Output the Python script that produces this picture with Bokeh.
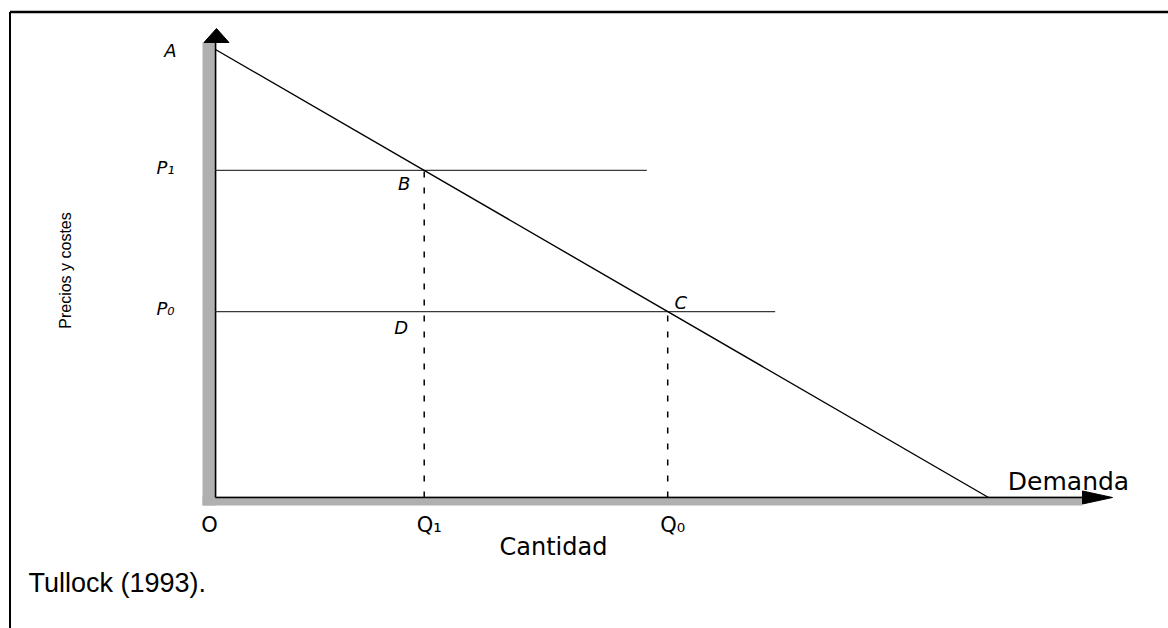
from bokeh.plotting import figure
from bokeh.models import Range1d
from bokeh.core.properties import value
from bokeh.embed import file_html
from bokeh.resources import INLINE

# ---------------- data ----------------
demand_q = [0.0, 100.0]          # demand curve: quantity
demand_p = [100.0, 0.0]          # demand curve: price
price_levels = [73.0, 41.5]      # P1, P0
price_labels = ["P\u2081", "P\u2080"]
price_line_ends = [55.8, 72.4]   # how far the horizontal price lines run
qty_levels = [27.0, 58.5]        # Q1, Q0
qty_labels = ["Q\u2081", "Q\u2080"]
origin_label = "O"
top_label = "A"
point_labels = ["B", "C", "D"]
x_title = "Cantidad"
y_title = "Precios y costes"
curve_label = "Demanda"
source_note = "Tullock (1993)."

# ---------------- layout (pixels) ----------------
W, H = 1168, 628
PX_X, PX_Y = 7.73, 4.48          # pixels per data unit
ORIG_X, ORIG_Y = 215, 497        # origin position inside the canvas


def dx(px):
    return px / PX_X


def dy(px):
    return px / PX_Y


x0 = -ORIG_X / PX_X
y1 = ORIG_Y / PX_Y
p = figure(width=W, height=H, output_backend="svg", toolbar_location=None,
           x_range=Range1d(x0, x0 + W / PX_X), y_range=Range1d(y1 - H / PX_Y, y1),
           x_axis_type=None, y_axis_type=None, min_border=0,
           outline_line_color=None, background_fill_color="white",
           border_fill_color="white")
p.grid.visible = False

# frame lines (top and left)
p.line([x0 + dx(9.5), x0 + W / PX_X], [y1 - dy(11.5)] * 2, line_color="black", line_width=2.5)
p.line([x0 + dx(9.5)] * 2, [y1 - dy(11.5), y1 - H / PX_Y], line_color="black", line_width=2)

AXIS_GRAY = "#b0b0b0"
Y_LEN, X_LEN = 455, 867
# axis bands
p.quad(left=[dx(-13)], right=[dx(1)], bottom=[-dy(8)], top=[dy(Y_LEN)],
       fill_color=AXIS_GRAY, line_color=None)
p.quad(left=[dx(-13)], right=[dx(X_LEN)], bottom=[-dy(8)], top=[dy(1)],
       fill_color=AXIS_GRAY, line_color=None)
p.line([0, 0], [0, dy(Y_LEN)], line_color="black", line_width=1.5)
p.line([0, dx(X_LEN)], [0, 0], line_color="black", line_width=1.5)
# arrow heads
p.patches(xs=[[dx(1) - dx(12.5), dx(1) + dx(12.5), dx(1)],
              [dx(X_LEN), dx(X_LEN), dx(X_LEN + 30)]],
          ys=[[dy(Y_LEN), dy(Y_LEN), dy(Y_LEN + 14)],
              [dy(6.5), -dy(6.5), 0]],
          fill_color="black", line_color="black", line_width=1)

# horizontal price lines
p.segment(x0=[0, 0], y0=price_levels, x1=price_line_ends, y1=price_levels,
          line_color="#3a3a3a", line_width=1.2)
# vertical dashed quantity lines
p.segment(x0=qty_levels, y0=[0, 0], x1=qty_levels, y1=price_levels,
          line_color="black", line_width=1.5, line_dash="6 10")
# demand curve
p.line(demand_q, demand_p, line_color="black", line_width=1.4)

ital = dict(text_font=value("DejaVu Sans"), text_font_style="italic",
            text_font_size="18px", text_color="black",
            text_align="center", text_baseline="middle")
norm = dict(text_font=value("DejaVu Sans"), text_font_size="21px",
            text_color="black", text_align="center", text_baseline="middle")

# A, B, C, D
p.text(x=[demand_q[0] - dx(45)], y=[demand_p[0] - dy(1)], text=[top_label], **ital)
p.text(x=[qty_levels[0] - dx(20), qty_levels[1] + dx(13), qty_levels[0] - dx(23)],
       y=[price_levels[0] - dy(13), price_levels[1] + dy(9), price_levels[1] - dy(16)],
       text=point_labels, **ital)
# P labels
p.text(x=[-dx(50)] * 2, y=[v + dy(3) for v in price_levels], text=price_labels, **ital)
# O and Q labels
p.text(x=[-dx(6)], y=[-dy(27)], text=[origin_label], **norm)
p.text(x=[q + dx(5) for q in qty_levels], y=[-dy(27)] * 2, text=qty_labels, **norm)
# axis titles
p.text(x=[dx(338)], y=[-dy(49)], text=[x_title], text_font=value("DejaVu Sans"),
       text_font_size="24px", text_align="center", text_baseline="middle")
p.text(x=[demand_q[1] + dx(80)], y=[dy(16)], text=[curve_label], text_font=value("DejaVu Sans"),
       text_font_size="25px", text_align="center", text_baseline="middle")
p.text(x=[-dx(150)], y=[dy(227)], text=[y_title], angle=1.5708,
       text_font=value("Liberation Sans"), text_font_size="16px",
       text_align="center", text_baseline="middle")
# source note
p.text(x=[-dx(187)], y=[-dy(85)], text=[source_note],
       text_font=value("Liberation Sans"), text_font_size="27px",
       text_align="left", text_baseline="middle")

open("out.html", "w").write(file_html(p, INLINE))
